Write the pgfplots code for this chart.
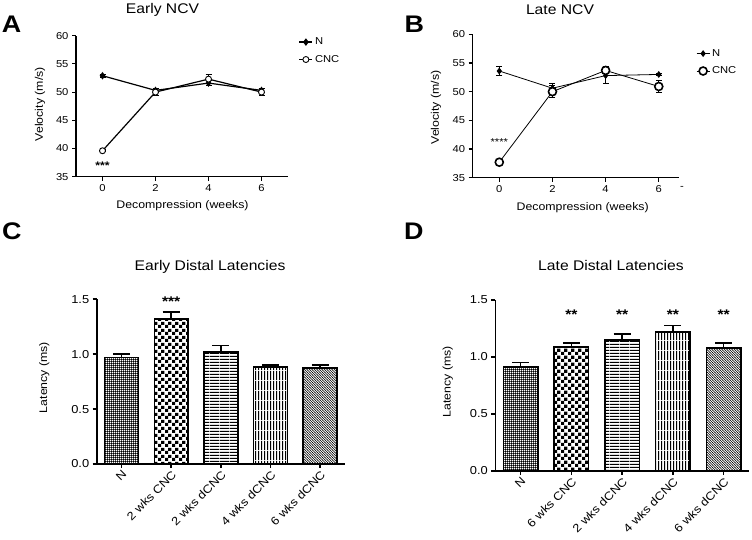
\documentclass[border=0pt]{standalone}
\usepackage{fontspec}
\setmainfont{Liberation Sans}[FakeStretch=1.12]
\usepackage{pgfplots}
\pgfplotsset{compat=1.18}
\usetikzlibrary{patterns}

% bar fills
\pgfdeclarepatternformonly{finegrid}{\pgfpointorigin}{\pgfqpoint{2.2pt}{2.2pt}}{\pgfqpoint{2.2pt}{2.2pt}}{%
  \pgfpathrectangle{\pgfpointorigin}{\pgfqpoint{2.2pt}{1.2pt}}%
  \pgfpathrectangle{\pgfpointorigin}{\pgfqpoint{1.2pt}{2.2pt}}%
  \pgfusepath{fill}}
\pgfdeclarepatternformonly{bigchecker}{\pgfpointorigin}{\pgfqpoint{6.6pt}{6.6pt}}{\pgfqpoint{6.6pt}{6.6pt}}{%
  \pgfpathrectangle{\pgfpointorigin}{\pgfqpoint{3.3pt}{3.3pt}}%
  \pgfpathrectangle{\pgfqpoint{3.3pt}{3.3pt}}{\pgfqpoint{3.3pt}{3.3pt}}%
  \pgfusepath{fill}}
\pgfdeclarepatternformonly{hstripes}{\pgfpointorigin}{\pgfqpoint{10pt}{3.3pt}}{\pgfqpoint{10pt}{3.3pt}}{%
  \pgfpathrectangle{\pgfpointorigin}{\pgfqpoint{10pt}{1.3pt}}%
  \pgfusepath{fill}}
\pgfdeclarepatternformonly{vstripes}{\pgfpointorigin}{\pgfqpoint{2.8pt}{10pt}}{\pgfqpoint{2.8pt}{10pt}}{%
  \pgfpathrectangle{\pgfpointorigin}{\pgfqpoint{1.1pt}{10pt}}%
  \pgfusepath{fill}}
\pgfdeclarepatternformonly{dstripes}{\pgfqpoint{-0.5pt}{-0.5pt}}{\pgfqpoint{3pt}{3pt}}{\pgfqpoint{2.5pt}{2.5pt}}{%
  \pgfsetlinewidth{0.55pt}%
  \pgfpathmoveto{\pgfqpoint{-0.3pt}{2.8pt}}\pgfpathlineto{\pgfqpoint{2.8pt}{-0.3pt}}%
  \pgfusepath{stroke}}

\newcommand{\tkA}{\fontsize{10}{12}\selectfont}
\newcommand{\tkC}{\fontsize{11.5}{13}\selectfont}
\newcommand{\lab}{\fontsize{11}{13}\selectfont}
\newcommand{\ttl}{\fontsize{14}{17}\selectfont}
\newcommand{\panel}{\fontsize{24}{28}\selectfont\bfseries}

\pgfplotsset{
  /pgf/number format/assume math mode=true,
  lineax/.style={scale only axis, axis lines*=left, tick align=outside, clip=false,
    axis line style={line width=1.1pt}, tick style={line width=1.1pt, black},
    major tick length=4pt, ticklabel style={font=\tkA},
    xmin=-1, ymin=35, ymax=60, xtick={0,2,4,6}, ytick={35,40,...,60},
    legend style={draw=none, fill=none, font=\tkA, row sep=5pt, inner sep=0pt},
    legend cell align=left,
    legend image code/.code={\draw[mark repeat=2, mark phase=2, ##1] plot coordinates {(0pt,0pt) (6.5pt,0pt) (13pt,0pt)};}},
  errA/.style={error bars/.cd, y dir=both, y explicit,
    error bar style={line width=1pt, solid}, error mark options={rotate=90, mark size=3pt, line width=1pt}},
  barax/.style={scale only axis, axis lines*=left, tick align=outside, clip=false, ybar,
    axis line style={line width=1.6pt}, tick style={line width=1.6pt, black},
    major tick length=4pt, ymin=0, ymax=1.5, ytick={0,0.5,1,1.5},
    xmin=-0.5, xmax=4.5, xtick={0,...,4},
    yticklabel style={/pgf/number format/.cd, fixed, fixed zerofill, precision=1},
    ticklabel style={font=\tkC},
    xticklabel style={rotate=45, anchor=north east, inner sep=1pt}},
  barst/.style={draw=black, line width=1.6pt, bar shift=0pt, bar width=0.68, pattern=#1,
    error bars/.cd, y dir=plus, y explicit,
    error bar style={line width=1.6pt, solid}, error mark options={rotate=90, mark size=8.5pt, line width=1.6pt}},
}

\begin{document}
\begin{tikzpicture}
\useasboundingbox (0,0) rectangle (752pt,540pt);

% ---- A: early NCV
\begin{axis}[lineax, at={(76pt,363.3pt)}, anchor=south west, width=212pt, height=141pt,
  xmax=7, legend style={at={(1.05,1.0)}, anchor=north west}]
\addplot[black, line width=1.2pt, mark=diamond*, mark size=2.8pt, mark options={solid}, errA]
  coordinates {(0,52.9) +- (0,0.3) (2,50.3) +- (0,0.4) (4,51.6) +- (0,0.4) (6,50.3) +- (0,0.4)};
\addlegendentry{N}
\addplot[black, line width=1.2pt, mark=*, mark size=3pt, mark options={solid, fill=white, line width=0.9pt}, errA]
  coordinates {(0,39.6) +- (0,0.2) (2,50.0) +- (0,0.6) (4,52.3) +- (0,0.8) (6,50.0) +- (0,0.6)};
\addlegendentry{CNC}
\node[font=\fontsize{11}{13}\selectfont\bfseries, anchor=base] at (axis cs:0,36.2) {***};
\end{axis}

% ---- B: late NCV
\begin{axis}[lineax, at={(472.7pt,362.3pt)}, anchor=south west, width=206pt, height=143.4pt,
  xmax=6.75, legend style={at={(1.084,0.91)}, anchor=north west}]
\addplot[black, line width=0.8pt, mark=diamond*, mark size=2.8pt, mark options={solid}, errA]
  coordinates {(0,53.6) +- (0,0.8) (2,50.6) +- (0,0.8) (4,52.8) +- (0,1.3) (6,53.0) +- (0,0.2)};
\addlegendentry{N}
\addplot[black, line width=0.8pt, mark=*, mark size=4pt, mark options={solid, fill=white, line width=1.6pt}, errA]
  coordinates {(0,37.7) +- (0,0.3) (2,50.0) +- (0,1.0) (4,53.7) +- (0,0.6) (6,50.9) +- (0,1.0)};
\addlegendentry{CNC}
\node[font=\fontsize{10}{12}\selectfont, anchor=base] at (axis cs:0,40.6) {****};
\end{axis}

% ---- C: early distal latencies
\begin{axis}[barax, at={(96.7pt,76pt)}, anchor=south west, width=248.3pt, height=164.7pt,
  xticklabels={N, 2 wks CNC, 2 wks dCNC, 4 wks dCNC, 6 wks dCNC}]
\addplot[barst=finegrid] coordinates {(0,0.97) +- (0,0.03)};
\addplot[barst=bigchecker] coordinates {(1,1.32) +- (0,0.065)};
\addplot[barst=hstripes] coordinates {(2,1.02) +- (0,0.06)};
\addplot[barst=vstripes] coordinates {(3,0.885) +- (0,0.015)};
\addplot[barst=dstripes] coordinates {(4,0.875) +- (0,0.025)};
\node[font=\fontsize{14}{17}\selectfont\bfseries, anchor=base] at (axis cs:1,1.435) {***};
\end{axis}

% ---- D: late distal latencies
\begin{axis}[barax, at={(495.3pt,69pt)}, anchor=south west, width=253.7pt, height=171pt,
  xticklabels={N, 6 wks CNC, 2 wks dCNC, 4 wks dCNC, 6 wks dCNC}]
\addplot[barst=finegrid] coordinates {(0,0.91) +- (0,0.04)};
\addplot[barst=bigchecker] coordinates {(1,1.09) +- (0,0.035)};
\addplot[barst=hstripes] coordinates {(2,1.15) +- (0,0.05)};
\addplot[barst=vstripes] coordinates {(3,1.22) +- (0,0.055)};
\addplot[barst=dstripes] coordinates {(4,1.08) +- (0,0.045)};
\foreach \i in {1,2,3,4} {
  \edef\temp{\noexpand\node[font=\noexpand\fontsize{14}{17}\noexpand\selectfont\noexpand\bfseries, anchor=base] at (axis cs:\i,1.326) {**};}
  \temp
}
\end{axis}

% ---- titles, labels, panel letters
\node[font=\ttl, anchor=base] at (162.5pt,526.7pt) {Early NCV};
\node[font=\ttl, anchor=base] at (560pt,525pt) {Late NCV};
\node[font=\ttl, anchor=base] at (210pt,269pt) {Early Distal Latencies};
\node[font=\ttl, anchor=base] at (611pt,269pt) {Late Distal Latencies};

\node[font=\lab] at (182.5pt,334.2pt) {Decompression (weeks)};
\node[font=\lab] at (582.7pt,332.2pt) {Decompression (weeks)};
\node[font=\tkA] at (682pt,352pt) {-};
\node[font=\lab, rotate=90] at (40pt,435.8pt) {Velocity (m/s)};
\node[font=\lab, rotate=90] at (436pt,432.5pt) {Velocity (m/s)};
\node[font=\lab, rotate=90] at (44.2pt,162.5pt) {Latency (ms)};
\node[font=\lab, rotate=90] at (447.7pt,158.3pt) {Latency (ms)};

\node[font=\panel, anchor=base west, inner sep=0pt] at (1.7pt,507.3pt) {A};
\node[font=\panel, anchor=base west, inner sep=0pt] at (404.3pt,507.3pt) {B};
\node[font=\panel, anchor=base west, inner sep=0pt] at (2pt,300pt) {C};
\node[font=\panel, anchor=base west, inner sep=0pt] at (404pt,300pt) {D};
\end{tikzpicture}
\end{document}
